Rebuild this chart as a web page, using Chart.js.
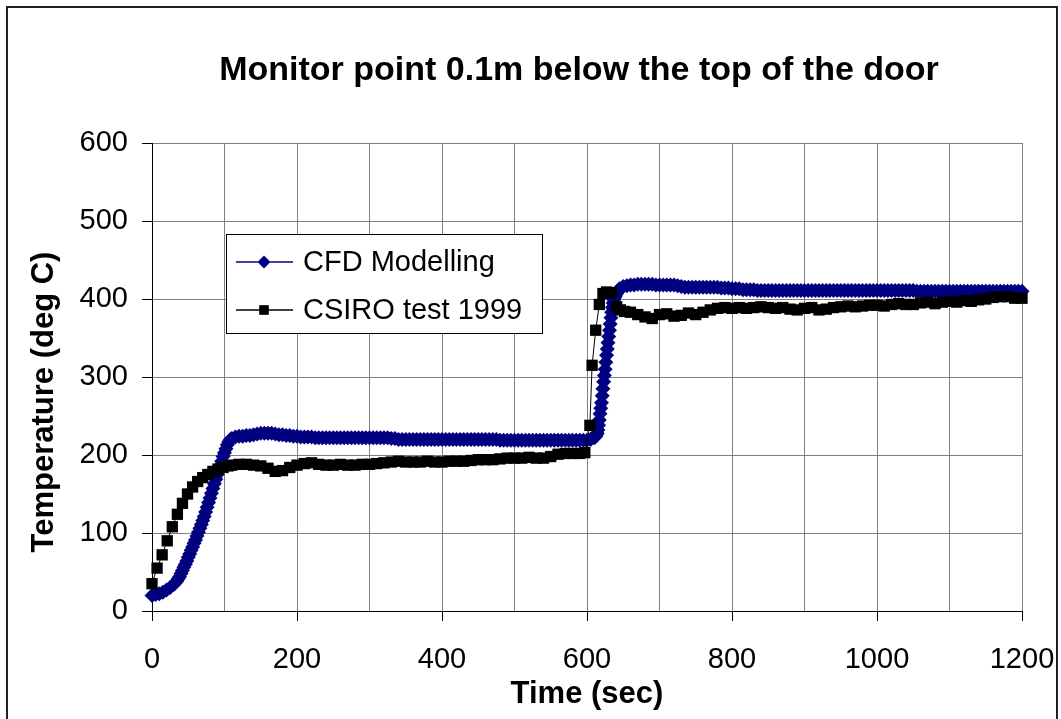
<!DOCTYPE html>
<html>
<head>
<meta charset="utf-8">
<script src="https://cdn.jsdelivr.net/npm/chart.js@4.4.0/dist/chart.umd.min.js"></script>
<style>
html,body{margin:0;padding:0;background:#fff;}
#wrap{position:relative;width:1061px;height:719px;}
</style>
</head>
<body>
<div id="wrap"><canvas id="c" width="1061" height="719"></canvas></div>
<script>
const chartTitle = 'Monitor point 0.1m below the top of the door';
const xAxisTitle = 'Time (sec)';
const yAxisTitle = 'Temperature (deg C)';
const seriesNames = ['CFD Modelling', 'CSIRO test 1999'];
const xTickLabels = [0, 200, 400, 600, 800, 1000, 1200];
const yTickLabels = [0, 100, 200, 300, 400, 500, 600];

const cfdTime = [
  0,5,10,15,20,25,
  30,32,34,36,38,40,42,44,46,48,50,52,54,56,58,60,62,64,66,68,70,
  72,74,76,78,80,82,84,86,88,90,92,94,96,98,100,102,104,106,108,110,
  115,120,125,130,135,140,145,150,155,160,165,170,175,180,185,190,195,200,
  205,210,215,220,225,230,235,240,245,250,255,260,265,270,275,280,285,290,295,300,
  305,310,315,320,325,330,335,340,345,350,355,360,365,370,375,380,385,390,395,400,
  405,410,415,420,425,430,435,440,445,450,455,460,465,470,475,480,485,490,495,500,
  505,510,515,520,525,530,535,540,545,550,555,560,565,570,575,580,585,590,595,600,
  605,
  610,611,612,613,614,615,616,617,618,619,620,621,622,623,624,625,626,627,628,629,
  630,631,632,633,634,635,636,637,638,639,640,641,642,643,644,645,
  650,655,660,665,670,675,680,685,690,695,700,
  705,710,715,720,725,730,735,740,745,750,755,760,765,770,775,780,785,790,795,800,
  805,810,815,820,825,830,835,840,845,850,855,860,865,870,875,880,885,890,895,900,
  905,910,915,920,925,930,935,940,945,950,955,960,965,970,975,980,985,990,995,1000,
  1005,1010,1015,1020,1025,1030,1035,1040,1045,1050,1055,1060,1065,1070,1075,1080,1085,1090,1095,1100,
  1105,1110,1115,1120,1125,1130,1135,1140,1145,1150,1155,1160,1165,1170,1175,1180,1185,1190,1195,1200
];
const cfdTemp = [
  20,21,22,24,27,30,
  34,36,38,41,44,48,52,56,60,64,69,73,78,82,87,91,96,101,106,111,116,
  121,127,133,139,145,151,157,163,169,175,181,186,192,198,203,208,213,217,220,221,
  223,224,224,225,225,226,227,228,228,228,228,227,226,226,225,225,224,224,
  223,223,223,223,222,222,222,222,222,222,222,222,222,222,222,222,222,222,222,222,
  222,222,222,222,222,221,221,220,220,220,220,220,220,220,220,220,220,220,220,220,
  220,220,220,220,220,220,220,220,220,220,220,220,220,220,220,219,219,219,219,219,
  219,219,219,219,219,219,219,219,219,219,219,219,219,219,219,219,219,219,219,219,
  220,
  222,223,224,226,228,232,238,245,253,260,267,276,285,294,302,310,319,328,336,344,
  352,360,368,376,383,389,395,399,402,404,406,408,410,411,412,413,
  416,417,418,418,419,419,419,419,419,418,418,
  418,418,418,418,417,416,415,415,415,415,415,415,415,415,415,415,414,414,414,413,
  413,413,412,412,412,412,411,411,411,411,411,411,411,411,411,411,411,411,411,411,
  411,411,411,411,411,411,411,411,411,411,411,411,411,411,411,411,411,411,411,411,
  411,411,411,411,411,411,411,411,411,411,410,410,410,410,410,410,410,410,410,410,
  410,410,410,410,410,410,410,410,410,410,410,410,410,410,410,410,410,410,410,410
];

const csiroTime = [
  0,7,14,21,28,35,42,49,56,63,70,77,84,91,98,105,
  110,120,130,140,150,160,170,180,190,200,
  210,220,230,240,250,260,270,280,290,300,
  310,320,330,340,350,360,370,380,390,400,
  410,420,430,440,450,460,470,480,490,500,
  510,520,530,540,550,560,570,580,590,597,
  604,607,612,617,622,627,634,641,646,652,660,
  670,680,690,700,710,720,730,740,750,760,
  770,780,790,800,810,820,830,840,850,860,
  870,880,890,900,910,920,930,940,950,960,
  970,980,990,1000,1010,1020,1030,1040,1050,1060,
  1070,1080,1090,1100,1110,1120,1130,1140,1150,1160,
  1170,1180,1190,1200
];
const csiroTemp = [
  35,55,72,90,108,124,138,150,159,166,171,175,179,182,184,186,
  187,188,188,187,186,183,179,180,184,187,
  189,190,188,187,187,188,187,187,188,188,
  189,190,191,192,191,191,191,192,191,191,
  192,192,192,193,194,194,194,195,196,196,
  196,197,196,196,198,201,202,202,202,203,
  238,315,360,393,407,409,408,390,386,384,383,
  380,377,375,380,381,378,379,382,380,383,
  386,388,389,388,389,388,389,390,389,388,
  389,387,386,388,389,386,387,389,390,391,
  390,391,392,392,391,393,394,393,393,395,
  396,394,396,397,396,398,397,399,400,402,
  403,403,401,401
];

const FONT = '"Liberation Sans", Arial, Helvetica, sans-serif';
Chart.defaults.font.family = FONT;
Chart.defaults.color = '#000';

const cfdPoints = cfdTime.map((t, i) => ({x: t, y: cfdTemp[i]}));
const csiroPoints = csiroTime.map((t, i) => ({x: t, y: csiroTemp[i]}));

const legendBox = {x: 226, y: 234, w: 316, h: 99};

const decor = {
  id: 'decor',
  beforeDraw(chart) {
    const ctx = chart.ctx;
    ctx.save();
    ctx.fillStyle = '#fff';
    ctx.fillRect(0, 0, chart.width, chart.height);
    ctx.restore();
  },
  afterDraw(chart) {
    const ctx = chart.ctx;
    ctx.save();
    ctx.strokeStyle = '#222';
    ctx.lineWidth = 2;
    ctx.strokeRect(7, 7, 1050, 740);
    ctx.fillStyle = '#000';
    ctx.textAlign = 'center';
    ctx.textBaseline = 'middle';
    ctx.font = 'bold 34px ' + FONT;
    ctx.fillText(chartTitle, 579, 71);
    ctx.save();
    ctx.translate(44, 402);
    ctx.rotate(-Math.PI / 2);
    ctx.font = 'bold 31px ' + FONT;
    ctx.fillText(yAxisTitle, 0, 0);
    ctx.restore();
    const b = legendBox;
    ctx.fillStyle = '#fff';
    ctx.fillRect(b.x, b.y, b.w, b.h);
    ctx.strokeStyle = '#000';
    ctx.lineWidth = 1;
    ctx.strokeRect(b.x + 0.5, b.y + 0.5, b.w, b.h);
    const rows = [
      {name: seriesNames[0], color: '#000080', style: 'rectRot', r: 6.5, y: b.y + 28},
      {name: seriesNames[1], color: '#000000', style: 'rect', r: 6.5, y: b.y + 76}
    ];
    rows.forEach(row => {
      ctx.strokeStyle = row.color;
      ctx.lineWidth = 1.5;
      ctx.beginPath();
      ctx.moveTo(236, row.y);
      ctx.lineTo(293, row.y);
      ctx.stroke();
      Chart.helpers.drawPoint(ctx, {pointStyle: row.style, radius: row.r, borderWidth: 0, rotation: 0}, 264, row.y);
      ctx.fillStyle = row.color;
      ctx.fill();
      ctx.fillStyle = '#000';
      ctx.textAlign = 'left';
      ctx.textBaseline = 'middle';
      ctx.font = '29px ' + FONT;
      ctx.fillText(row.name, 303, row.y + 1);
    });
    ctx.restore();
  }
};

new Chart(document.getElementById('c'), {
  type: 'line',
  data: {
    datasets: [
      {
        label: seriesNames[0],
        data: cfdPoints,
        borderColor: '#000080',
        backgroundColor: '#000080',
        borderWidth: 1,
        pointStyle: 'rectRot',
        pointRadius: 7.5,
        pointBorderWidth: 0,
        pointBackgroundColor: '#000080',
        tension: 0,
        clip: false,
        order: 2
      },
      {
        label: seriesNames[1],
        data: csiroPoints,
        borderColor: '#000000',
        backgroundColor: '#000000',
        borderWidth: 1,
        pointStyle: 'rect',
        pointRadius: 8,
        pointBorderWidth: 0,
        pointBackgroundColor: '#000000',
        tension: 0,
        clip: false,
        order: 1
      }
    ]
  },
  options: {
    responsive: false,
    animation: false,
    devicePixelRatio: 1,
    layout: {padding: {left: 0, right: 39, top: 143, bottom: 0}},
    plugins: {
      legend: {display: false},
      tooltip: {enabled: false},
      title: {display: false}
    },
    scales: {
      x: {
        type: 'linear',
        min: 0,
        max: 1200,
        ticks: {
          stepSize: 100,
          autoSkip: false,
          maxRotation: 0,
          padding: 22,
          color: '#000',
          font: {size: 29},
          callback: v => xTickLabels.includes(v) ? String(v) : ''
        },
        grid: {
          color: '#808080',
          lineWidth: 1,
          tickLength: 10,
          tickColor: c => (c.tick && xTickLabels.includes(c.tick.value)) ? '#000' : 'rgba(0,0,0,0)'
        },
        border: {color: '#000', width: 1},
        title: {
          display: true,
          text: xAxisTitle,
          color: '#000',
          font: {size: 31, weight: 'bold'},
          padding: {top: 0, bottom: 6}
        },
        afterFit: s => { s.height = 108; s.paddingLeft = 0; s.paddingRight = 0; }
      },
      y: {
        type: 'linear',
        min: 0,
        max: 600,
        ticks: {
          stepSize: 100,
          padding: 14,
          color: '#000',
          font: {size: 29},
          callback: v => yTickLabels.includes(v) ? String(v) : ''
        },
        grid: {
          color: '#808080',
          lineWidth: 1,
          tickLength: 10,
          tickColor: '#000'
        },
        border: {color: '#000', width: 1},
        afterFit: s => { s.width = 152; s.paddingTop = 0; s.paddingBottom = 0; }
      }
    }
  },
  plugins: [decor]
});
</script>
</body>
</html>
